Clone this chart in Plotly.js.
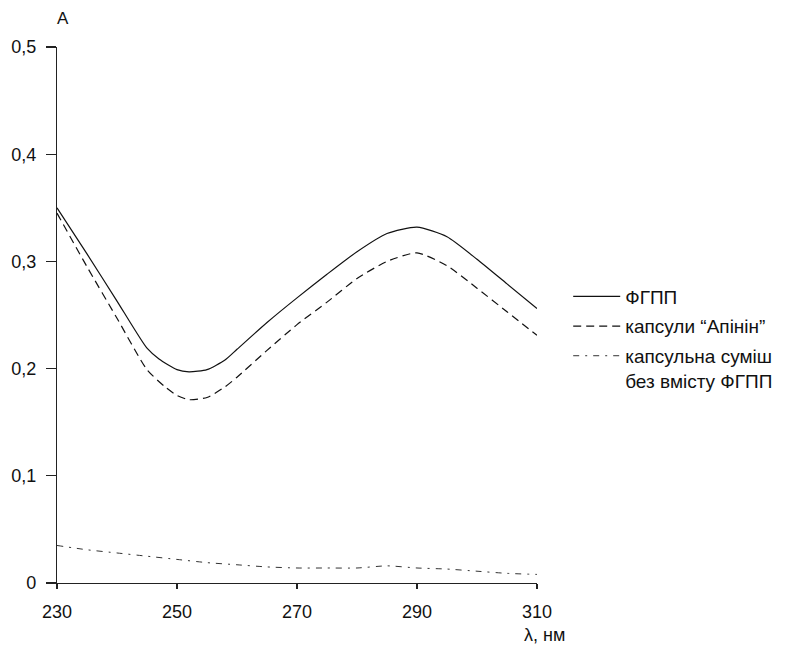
<!DOCTYPE html>
<html>
<head>
<meta charset="utf-8">
<script src="https://cdn.plot.ly/plotly-3.0.1.min.js"></script>
<style>html,body{margin:0;padding:0;background:#fff;}#chart{width:788px;height:646px;}</style>
</head>
<body>
<div id="chart"></div>
<script>
var wavelength = [230,235,240,245,247,250,252,255,258,260,265,270,275,280,285,290,295,300,305,310];
var fgpp =       [0.350,0.307,0.263,0.219,0.209,0.199,0.197,0.199,0.208,0.218,0.243,0.266,0.288,0.309,0.326,0.332,0.323,0.302,0.279,0.256];
var wavelengthB = [230,235,240,245,248,250,252,255,258,260,265,270,275,280,285,290,295,300,305,310];
var apinin =      [0.345,0.295,0.247,0.199,0.183,0.175,0.171,0.173,0.183,0.192,0.217,0.241,0.262,0.284,0.300,0.308,0.296,0.275,0.253,0.231];
var wavelengthC = [230,235,240,245,250,255,260,265,270,275,280,285,290,295,300,305,310];
var placebo =     [0.035,0.031,0.028,0.025,0.022,0.019,0.017,0.015,0.014,0.014,0.014,0.016,0.014,0.013,0.011,0.009,0.008];

var names = ['ФГПП', 'капсули “Апінін”', 'капсульна суміш<br>без вмісту ФГПП'];
var xTicks = [230,250,270,290,310];
var yTicks = [0,0.1,0.2,0.3,0.4,0.5];
var yTickText = ['0','0,1','0,2','0,3','0,4','0,5'];

var traces = [
  {x: wavelength, y: fgpp, name: names[0], legendgroup: 'a', mode: 'lines', line: {color: '#111', width: 1.2, shape: 'spline', smoothing: 0.6}},
  {x: wavelengthB, y: apinin, name: names[1], legendgroup: 'b', mode: 'lines', line: {color: '#111', width: 1.2, dash: '8px,5px', shape: 'spline', smoothing: 0.6}},
  {x: wavelengthC, y: placebo, name: names[2], legendgroup: 'c', mode: 'lines', line: {color: '#333', width: 1, dash: '6px,6px,2px,6px', shape: 'spline', smoothing: 0.6}}
];

var font = 'Liberation Sans, Arial, sans-serif';
var layout = {
  width: 788, height: 646,
  margin: {l: 57, r: 251, t: 47, b: 63, autoexpand: false},
  paper_bgcolor: '#fff', plot_bgcolor: '#fff',
  separators: ',.',
  showlegend: true,
  font: {family: font, color: '#111', size: 18},
  xaxis: {
    range: [230, 310], tickvals: xTicks, ticktext: xTicks.map(String),
    showgrid: false, zeroline: false, showline: true, linecolor: '#222', linewidth: 1.2,
    ticks: 'outside', ticklen: 5, tickwidth: 1.2, tickcolor: '#222',
    tickfont: {size: 18, family: font}, ticklabelstandoff: 7, fixedrange: true
  },
  yaxis: {
    range: [0, 0.5], tickvals: yTicks, ticktext: yTickText,
    showgrid: false, zeroline: false, showline: true, linecolor: '#222', linewidth: 1.2,
    ticks: 'outside', ticklen: 10, tickwidth: 1.2, tickcolor: '#222',
    tickfont: {size: 18, family: font}, ticklabelstandoff: 6, fixedrange: true
  },
  legend: {
    x: 1.065, y: 0.57, xanchor: 'left', yanchor: 'top',
    font: {size: 19, family: font, color: '#111'},
    bgcolor: 'rgba(0,0,0,0)', valign: 'top', traceorder: 'grouped', tracegroupgap: 2,
    itemwidth: 47
  },
  annotations: [
    {text: 'A', xref: 'paper', yref: 'paper', x: 0.0125, y: 1, yshift: 29, showarrow: false, xanchor: 'center', yanchor: 'middle', font: {size: 17, family: font}},
    {text: 'λ, нм', xref: 'paper', yref: 'paper', x: 1.0, y: 0, xshift: 7, yshift: -52, showarrow: false, xanchor: 'center', yanchor: 'middle', font: {size: 18, family: font}}
  ]
};

Plotly.newPlot('chart', traces, layout, {displayModeBar: false, staticPlot: true});
</script>
</body>
</html>
